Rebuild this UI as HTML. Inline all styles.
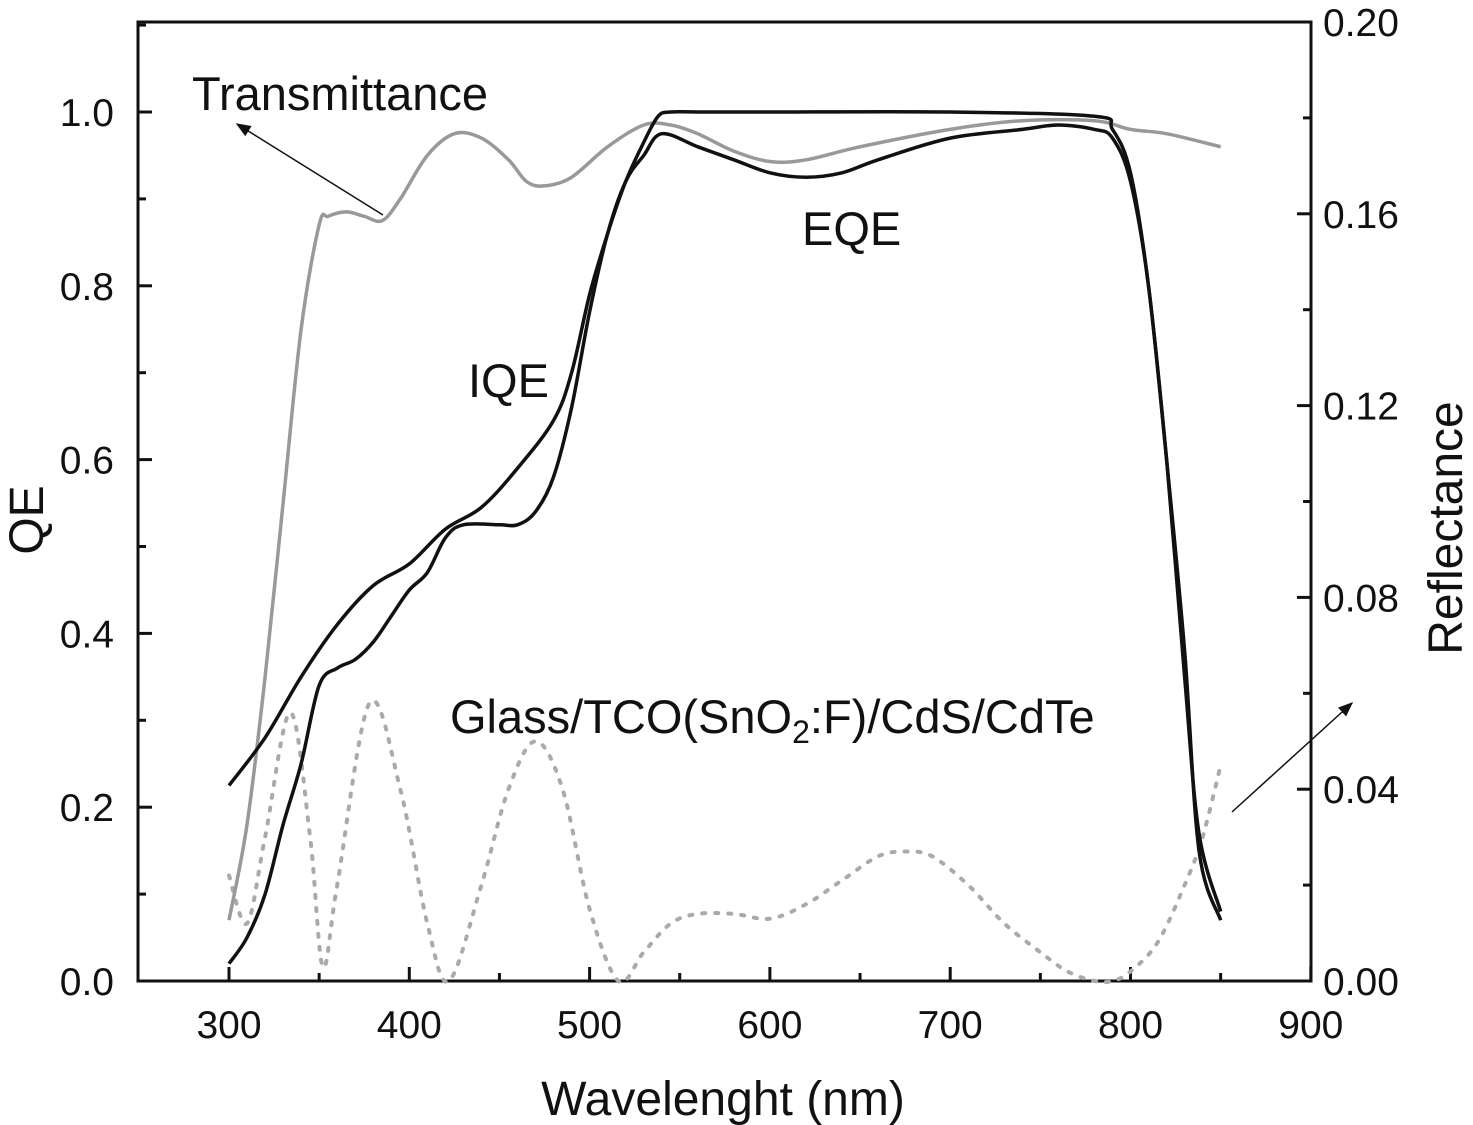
<!DOCTYPE html>
<html><head><meta charset="utf-8"><style>
body{margin:0;background:#fff;}
svg{display:block;font-family:"Liberation Sans",sans-serif;}
</style></head><body>
<svg id="chart" width="1473" height="1125"></svg>
<script>
const wlIQE=[300,320,340,360,380,400,420,440,460,480,490,500,510,520,530,538,545,560,600,700,780,790,800,810,820,830,838,850];
const valIQE=[0.225,0.28,0.35,0.41,0.455,0.48,0.52,0.545,0.59,0.645,0.70,0.79,0.86,0.92,0.965,0.995,1.0,1.0,1.0,1.0,0.995,0.98,0.93,0.80,0.60,0.35,0.17,0.08];
const wlEQE=[300,310,320,330,340,350,360,370,380,390,400,410,420,430,450,460,470,480,490,500,510,520,530,540,560,580,600,620,640,660,700,740,760,780,790,800,810,820,830,838,850];
const valEQE=[0.02,0.05,0.10,0.18,0.25,0.34,0.36,0.37,0.39,0.42,0.45,0.47,0.51,0.525,0.525,0.525,0.54,0.58,0.66,0.77,0.86,0.92,0.95,0.975,0.96,0.945,0.93,0.925,0.93,0.945,0.97,0.98,0.985,0.98,0.97,0.92,0.80,0.60,0.38,0.15,0.07];
const wlT=[300,310,320,330,340,350,355,365,375,385,395,410,425,440,455,465,475,490,510,530,545,560,580,600,620,650,700,740,780,800,820,850];
const valT=[0.07,0.18,0.35,0.55,0.75,0.87,0.88,0.885,0.88,0.875,0.90,0.95,0.975,0.97,0.945,0.92,0.915,0.925,0.96,0.985,0.985,0.975,0.955,0.943,0.945,0.96,0.98,0.99,0.99,0.98,0.975,0.96];
const wlR=[300,310,320,334,345,352,360,378,395,410,422,440,455,470,485,500,516,530,545,560,580,600,620,640,660,675,690,710,730,750,765,780,790,800,815,830,840,850];
const valR=[0.022,0.012,0.03,0.056,0.03,0.003,0.02,0.058,0.04,0.012,0.0,0.02,0.04,0.050,0.04,0.015,0.0,0.006,0.012,0.014,0.014,0.013,0.016,0.021,0.026,0.027,0.026,0.02,0.012,0.006,0.002,0.0,0.0,0.002,0.008,0.02,0.03,0.045];
const xTicks=[300,400,500,600,700,800,900];
const yTicks=[0.0,0.2,0.4,0.6,0.8,1.0];
const rTicks=[0.00,0.04,0.08,0.12,0.16,0.20];

const L=138,R=1311,T=22,B=981;
const x=w=>229+(w-300)*1.803;
const y=v=>B-v*869;
const yr=v=>B-v*4795;
const svg=document.getElementById('chart');
const NS='http://www.w3.org/2000/svg';
function el(tag,attrs,parent){const e=document.createElementNS(NS,tag);for(const k in attrs)e.setAttribute(k,attrs[k]);(parent||svg).appendChild(e);return e;}
function txt(s,attrs,name){const e=el('text',attrs);e.textContent=s;return e;}

const frame=el('rect',{x:L,y:T,width:R-L,height:B-T,fill:'none',stroke:'#111','stroke-width':3});



xTicks.forEach(t=>{
  const l=el('line',{x1:x(t),x2:x(t),y1:B,y2:B-14,stroke:'#111','stroke-width':3});
  
  
  if(t<900){const m=el('line',{x1:x(t+50),x2:x(t+50),y1:B,y2:B-8,stroke:'#111','stroke-width':3});
  
  }
  txt(String(t),{x:x(t),y:B+57,'font-size':39,'text-anchor':'middle',fill:'#111'},'x-tick-label');
});
yTicks.forEach(t=>{
  const l=el('line',{x1:L,x2:L+14,y1:y(t),y2:y(t),stroke:'#111','stroke-width':3});
  
  
  const m=el('line',{x1:L,x2:L+8,y1:y(t+0.1),y2:y(t+0.1),stroke:'#111','stroke-width':3});
  
  
  txt(t.toFixed(1),{x:L-24,y:y(t)+14,'font-size':39,'text-anchor':'end',fill:'#111'},'y-tick-label');
});
rTicks.forEach(t=>{
  const l=el('line',{x1:R,x2:R-14,y1:yr(t),y2:yr(t),stroke:'#111','stroke-width':3});
  
  
  if(t<0.2){const m=el('line',{x1:R,x2:R-8,y1:yr(t+0.02),y2:yr(t+0.02),stroke:'#111','stroke-width':3});
  
  }
  txt(t.toFixed(2),{x:R+12,y:yr(t)+14,'font-size':39,fill:'#111'},'right-tick-label');
});

function line(ws,vs,fy,attrs,name){
  const P=ws.map((w,i)=>[x(w),fy(vs[i])]);
  let d='M'+P[0][0].toFixed(1)+','+P[0][1].toFixed(1);
  for(let i=0;i<P.length-1;i++){
    const p0=P[Math.max(0,i-1)],p1=P[i],p2=P[i+1],p3=P[Math.min(P.length-1,i+2)];
    const c1=[p1[0]+(p2[0]-p0[0])/6,p1[1]+(p2[1]-p0[1])/6];
    const c2=[p2[0]-(p3[0]-p1[0])/6,p2[1]-(p3[1]-p1[1])/6];
    d+=' C'+c1.map(n=>n.toFixed(1)).join(',')+' '+c2.map(n=>n.toFixed(1)).join(',')+' '+p2.map(n=>n.toFixed(1)).join(',');
  }
  const p=el('path',Object.assign({d:d,fill:'none','stroke-linejoin':'round'},attrs));
  
  
}
line(wlR,valR,yr,{stroke:'#aaa','stroke-width':4,'stroke-dasharray':'3 10','stroke-linecap':'round'},'reflectance-line');
line(wlT,valT,y,{stroke:'#999','stroke-width':3.5},'transmittance-line');
line(wlEQE,valEQE,y,{stroke:'#111','stroke-width':3.5},'eqe-line');
line(wlIQE,valIQE,y,{stroke:'#111','stroke-width':3.5},'iqe-line');

txt('Transmittance',{x:192,y:110,'font-size':47,fill:'#111'},'transmittance-label');
txt('EQE',{x:802,y:245,'font-size':47,fill:'#111'},'eqe-label');
txt('IQE',{x:468,y:397,'font-size':47,fill:'#111'},'iqe-label');
const g=txt('',{x:450,y:733,'font-size':47,fill:'#111'},'sample-label');
g.innerHTML='Glass/TCO(SnO<tspan dy="10" font-size="32">2</tspan><tspan dy="-10">:F)/CdS/CdTe</tspan>';
txt('Wavelenght (nm)',{x:723,y:1115,'font-size':48,'text-anchor':'middle',fill:'#111'},'x-axis-title');
txt('QE',{x:0,y:0,'font-size':48,'text-anchor':'middle',fill:'#111',transform:'translate(43,520) rotate(-90)'},'y-axis-title');
txt('Reflectance',{x:0,y:0,'font-size':48,'text-anchor':'middle',fill:'#111',transform:'translate(1462,528) rotate(-90)'},'right-axis-title');

const defs=el('defs',{});
const mk=el('marker',{id:'ah',markerWidth:10,markerHeight:8,refX:9,refY:4,orient:'auto'},defs);
el('path',{d:'M0,0 L10,4 L0,8 z',fill:'#111'},mk);
const a1=el('line',{x1:383,y1:215,x2:237,y2:124,stroke:'#111','stroke-width':1.5,'marker-end':'url(#ah)'});


const a2=el('line',{x1:1232,y1:812,x2:1352,y2:703,stroke:'#111','stroke-width':1.5,'marker-end':'url(#ah)'});


</script>
</body></html>
